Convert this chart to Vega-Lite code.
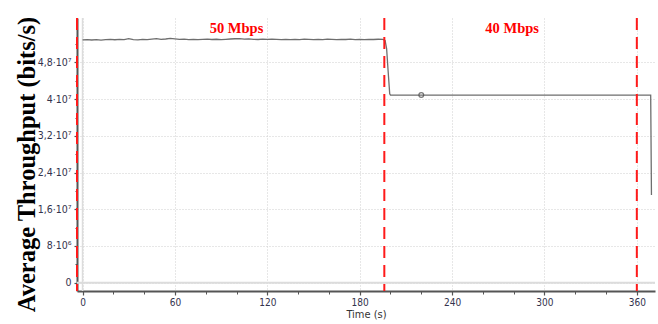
{
  "$schema": "https://vega.github.io/schema/vega-lite/v6.json",
  "width": 578,
  "height": 273,
  "autosize": {"type": "none"},
  "padding": {"left": 77, "top": 18, "right": 3, "bottom": 33},
  "background": "white",
  "config": {"view": {"stroke": null}},
  "datasets": {
    "series": [
      {"t": 0, "v": 52950000}, {"t": 3, "v": 53000000}, {"t": 6, "v": 52900000}, {"t": 9, "v": 52970000},
      {"t": 12, "v": 52880000}, {"t": 15, "v": 53000000}, {"t": 18, "v": 53050000}, {"t": 21, "v": 52960000},
      {"t": 24, "v": 53020000}, {"t": 27, "v": 52980000}, {"t": 30, "v": 53180000}, {"t": 33, "v": 53000000},
      {"t": 36, "v": 52930000}, {"t": 39, "v": 53050000}, {"t": 42, "v": 52990000}, {"t": 45, "v": 53100000},
      {"t": 48, "v": 53220000}, {"t": 51, "v": 53050000}, {"t": 54, "v": 53120000}, {"t": 57, "v": 53250000},
      {"t": 60, "v": 53150000}, {"t": 63, "v": 53030000}, {"t": 66, "v": 53100000}, {"t": 69, "v": 53000000},
      {"t": 72, "v": 53060000}, {"t": 75, "v": 52980000}, {"t": 78, "v": 53040000}, {"t": 81, "v": 53090000},
      {"t": 84, "v": 53010000}, {"t": 87, "v": 53070000}, {"t": 90, "v": 52970000}, {"t": 93, "v": 53050000},
      {"t": 96, "v": 53120000}, {"t": 99, "v": 53180000}, {"t": 102, "v": 53220000}, {"t": 105, "v": 53100000},
      {"t": 108, "v": 53150000}, {"t": 111, "v": 53050000}, {"t": 114, "v": 53010000}, {"t": 117, "v": 53090000},
      {"t": 120, "v": 53030000}, {"t": 123, "v": 53110000}, {"t": 126, "v": 53050000}, {"t": 129, "v": 53000000},
      {"t": 132, "v": 53060000}, {"t": 135, "v": 52980000}, {"t": 138, "v": 53040000}, {"t": 141, "v": 53000000},
      {"t": 144, "v": 53080000}, {"t": 147, "v": 53020000}, {"t": 150, "v": 52970000}, {"t": 153, "v": 53050000},
      {"t": 156, "v": 53000000}, {"t": 159, "v": 53090000}, {"t": 162, "v": 53030000}, {"t": 165, "v": 52980000},
      {"t": 168, "v": 53060000}, {"t": 171, "v": 53010000}, {"t": 174, "v": 53080000}, {"t": 177, "v": 53000000},
      {"t": 180, "v": 53040000}, {"t": 183, "v": 52990000}, {"t": 186, "v": 53060000}, {"t": 189, "v": 53010000},
      {"t": 192, "v": 53070000}, {"t": 195, "v": 53030000}, {"t": 196.5, "v": 52800000}, {"t": 197.5, "v": 51000000},
      {"t": 198.5, "v": 46000000}, {"t": 199.5, "v": 41200000}, {"t": 200, "v": 40900000}, {"t": 220, "v": 40900000},
      {"t": 369, "v": 40900000}, {"t": 369.5, "v": 19100000}
    ],
    "marker": [{"t": 220, "v": 40900000}],
    "limits": [{"t": -3.6}, {"t": 196}, {"t": 360}],
    "labels": [{"t": 100, "v": 54500000, "text": "50 Mbps"}, {"t": 279, "v": 54500000, "text": "40 Mbps"}],
    "zeroY": [{"v": 0}],
    "zeroX": [{"t": 0}]
  },
  "resolve": {"axis": {"x": "independent", "y": "independent"}},
  "layer": [
    {
      "data": {"name": "zeroY"},
      "mark": {"type": "rule", "color": "#dcdcdc", "strokeWidth": 2},
      "encoding": {"y": {"field": "v", "type": "quantitative", "scale": {"domain": [-1810000, 57700000], "nice": false, "zero": false}, "axis": null}}
    },
    {
      "data": {"name": "zeroX"},
      "mark": {"type": "rule", "color": "#dcdcdc", "strokeWidth": 1.5},
      "encoding": {"x": {"field": "t", "type": "quantitative", "scale": {"domain": [-3.6, 371.8], "nice": false, "zero": false}, "axis": null}}
    },
    {
      "data": {"name": "series"},
      "mark": {"type": "line", "color": "#6e6e6e", "strokeWidth": 1.3, "interpolate": "linear"},
      "encoding": {
        "x": {
          "field": "t", "type": "quantitative",
          "scale": {"domain": [-3.6, 371.8], "nice": false, "zero": false},
          "axis": {
            "values": [0, 60, 120, 180, 240, 300, 360],
            "title": "Time (s)",
            "titleFont": "DejaVu Sans Condensed", "titleFontSize": 11, "titleFontWeight": "normal", "titleColor": "#333333", "titlePadding": 1,
            "labelFont": "DejaVu Sans Condensed", "labelFontSize": 10, "labelColor": "#33334d", "labelPadding": 2,
            "domainColor": "#555555", "domainWidth": 2,
            "tickColor": "#555555", "tickSize": 4, "tickWidth": 1.2,
            "grid": true, "gridColor": "#cfcfcf", "gridDash": [1, 2], "gridWidth": 1
          }
        },
        "y": {
          "field": "v", "type": "quantitative",
          "scale": {"domain": [-1810000, 57700000], "nice": false, "zero": false},
          "axis": {
            "values": [0, 8000000, 16000000, 24000000, 32000000, 40000000, 48000000],
            "labelExpr": "datum.value == 0 ? '0' : datum.value == 8000000 ? '8·10⁶' : replace(format(datum.value / 10000000, '~g'), '.', ',') + '·10⁷'",
            "labelFont": "DejaVu Sans Condensed", "labelFontSize": 10.5, "labelColor": "#33334d", "labelPadding": 3,
            "domainColor": "#555555", "domainWidth": 2,
            "tickColor": "#555555", "tickSize": 3, "tickWidth": 1.2,
            "grid": true, "gridColor": "#cfcfcf", "gridDash": [1, 2], "gridWidth": 1,
            "title": "Average Throughput (bits/s)",
            "titleFont": "Liberation Serif", "titleFontSize": 24.5, "titleFontWeight": "bold", "titleColor": "#000000",
            "titleAngle": -90, "titleX": -50, "titleY": 146, "titleAlign": "center", "titleBaseline": "middle"
          }
        }
      }
    },
    {
      "data": {"name": "marker"},
      "mark": {"type": "point", "shape": "circle", "filled": false, "color": "#444444", "strokeWidth": 1.3, "size": 22},
      "encoding": {
        "x": {"field": "t", "type": "quantitative", "axis": null},
        "y": {"field": "v", "type": "quantitative", "axis": null}
      }
    },
    {
      "data": {"name": "limits"},
      "mark": {"type": "rule", "color": "#ff1a1a", "strokeWidth": 2, "strokeDash": [12, 7], "clip": false},
      "encoding": {"x": {"field": "t", "type": "quantitative", "axis": null}}
    },
    {
      "data": {"name": "labels"},
      "mark": {"type": "text", "color": "#ff0000", "font": "Liberation Serif", "fontSize": 14.5, "fontWeight": "bold", "baseline": "alphabetic", "align": "center"},
      "encoding": {
        "x": {
          "field": "t", "type": "quantitative",
          "axis": {
            "values": [20, 40, 80, 100, 140, 160, 200, 220, 260, 280, 320, 340],
            "labels": false, "title": null, "grid": false, "domain": false,
            "tickColor": "#555555", "tickSize": 3, "tickWidth": 1, "orient": "bottom"
          }
        },
        "y": {
          "field": "v", "type": "quantitative",
          "axis": {
            "values": [4000000, 12000000, 20000000, 28000000, 36000000, 44000000, 52000000],
            "labels": false, "title": null, "grid": false, "domain": false,
            "tickColor": "#555555", "tickSize": 2, "tickWidth": 1, "orient": "left"
          }
        },
        "text": {"field": "text"}
      }
    }
  ]
}
